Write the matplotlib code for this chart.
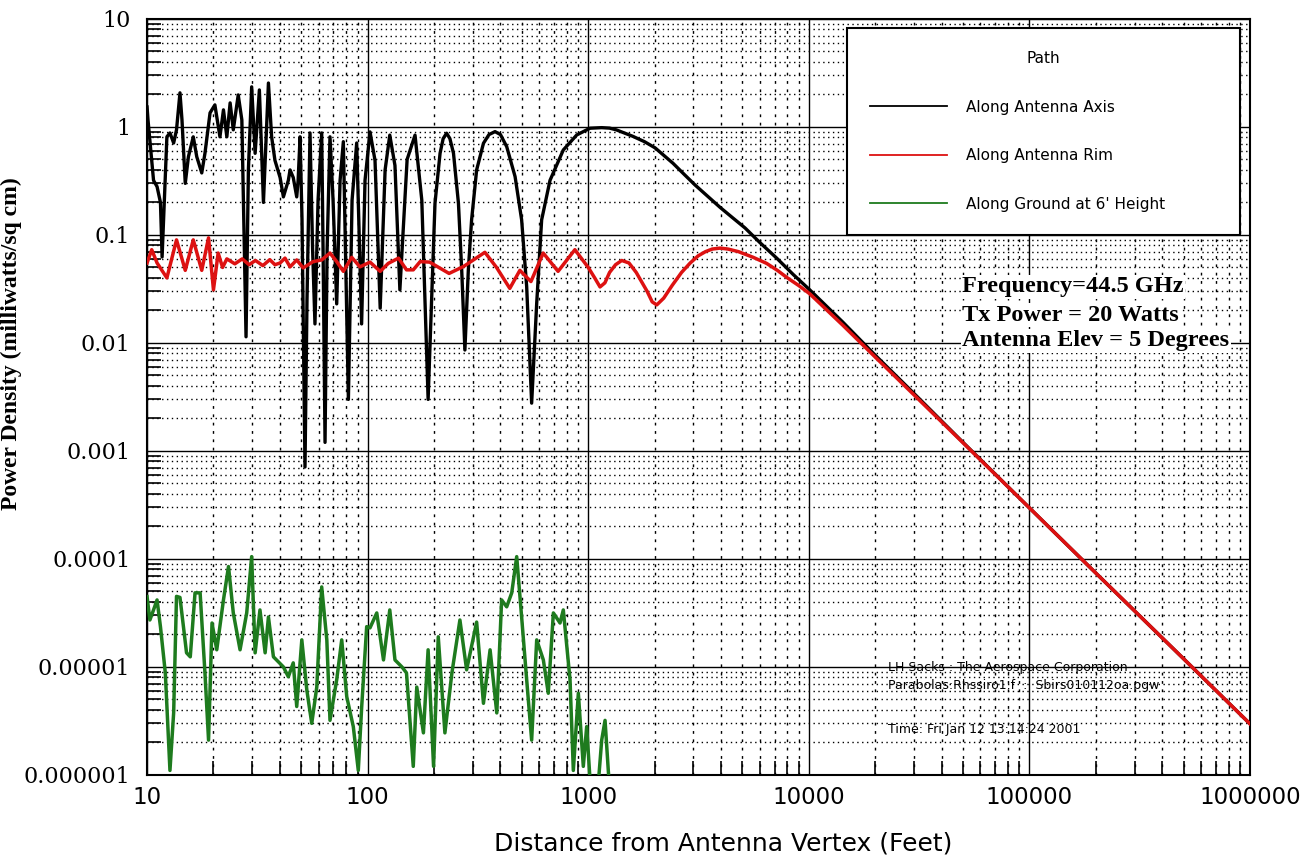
# -*- coding: utf-8 -*-
# Power density vs distance from a parabolic antenna (log-log), 44.5 GHz

import numpy as np
import matplotlib
matplotlib.use('Agg')
import matplotlib.pyplot as plt
from matplotlib.lines import Line2D
from matplotlib.ticker import LogLocator, NullFormatter

# along antenna axis (feet, mW/sq cm)
axis_ft = [10, 10.1, 10.7, 11.1, 11.5, 11.7, 12.3, 12.7, 13.2, 13.6,
           14.1, 14.4, 14.9, 15.4, 16.2, 16.8, 17.7, 18.3, 19.3, 20.3,
           21.4, 22.2, 23.0, 23.8, 24.6, 25.9, 26.9, 28.1, 28.8, 29.8,
           30.9, 32.3, 33.7, 35.5, 36.7, 38.0, 40.1, 41.5, 43.7, 44.5,
           46.0, 47.7, 48.4, 49.4, 50.4, 52.0, 53.1, 54.8, 56.3, 57.7,
           59.6, 61.9, 62.8, 64.1, 65.5, 67.5, 69.7, 72.4, 75.0, 77.6,
           81.8, 85.0, 89.2, 93.9, 97.3, 102.5, 108, 114, 120, 126,
           133, 140, 151, 164, 176, 188, 202, 213, 220, 228,
           236, 245, 258, 267, 276, 286, 296, 312, 335, 355,
           378, 400, 427, 466, 499, 526, 554, 584, 615, 671,
           771, 887, 1019, 1150, 1250, 1340, 1590, 1800, 2010, 2425,
           2700, 3050, 3960, 4500, 5140, 6000, 7150, 8500, 10100, 14300,
           20000, 30000, 50000, 100000, 200000, 500000, 1000000]
axis_pd = [1.53, 1.16, 0.32, 0.28, 0.2, 0.0625, 0.81, 0.88, 0.71, 0.94,
           2.07, 1.16, 0.3, 0.53, 0.81, 0.53, 0.375, 0.57, 1.35, 1.6,
           0.81, 1.44, 0.81, 1.67, 0.94, 1.98, 1.16, 0.0114, 0.4, 2.35,
           0.57, 2.2, 0.2, 2.55, 0.81, 0.49, 0.34, 0.225, 0.32, 0.4,
           0.34, 0.225, 0.32, 0.81, 0.14, 0.00071, 0.025, 0.88, 0.073, 0.015,
           0.21, 0.88, 0.073, 0.0012, 0.073, 0.81, 0.21, 0.023, 0.32, 0.73,
           0.003, 0.21, 0.71, 0.015, 0.32, 0.9, 0.49, 0.021, 0.4, 0.84,
           0.44, 0.031, 0.5, 0.84, 0.21, 0.003, 0.197, 0.571, 0.78, 0.875,
           0.78, 0.571, 0.197, 0.047, 0.0086, 0.047, 0.138, 0.4, 0.706, 0.85,
           0.905, 0.85, 0.657, 0.347, 0.138, 0.0332, 0.00277, 0.0233, 0.138, 0.32,
           0.612, 0.843, 0.973, 0.985, 0.975, 0.94, 0.82, 0.73, 0.64, 0.46,
           0.37, 0.29, 0.18, 0.145, 0.116, 0.085, 0.061, 0.043, 0.031, 0.0155,
           0.0077, 0.0034, 0.00120, 0.000297, 7.4e-5, 1.19e-5, 2.97e-6]

# along antenna rim
rim_ft = [10, 10.5, 11.1, 12.3, 13.6, 14.9, 16.2, 17.7, 19.0, 20.0,
          21.0, 22.0, 23.0, 25.0, 27.0, 29.0, 31.0, 33.5, 36.0, 38.0,
          40.1, 42.2, 44.5, 47.7, 51.0, 56.6, 61.9, 67.5, 72.4, 77.6,
          84.7, 92.3, 102.5, 114, 124, 138, 150, 161, 173, 191,
          234, 272, 340, 384, 441, 490, 550, 625, 730, 870,
          1000, 1070, 1131, 1190, 1250, 1330, 1419, 1530, 1650, 1850,
          1950, 2045, 2200, 2400, 2650, 2900, 3150, 3400, 3650, 3960,
          4300, 4800, 5600, 6440, 7200, 8000, 9000, 10100, 14300, 20000,
          30000, 50000, 100000, 200000, 500000, 1000000]
rim_pd = [0.055, 0.073, 0.055, 0.04, 0.09, 0.047, 0.09, 0.047, 0.094, 0.031,
          0.068, 0.05, 0.06, 0.054, 0.06, 0.053, 0.058, 0.052, 0.059, 0.053,
          0.055, 0.061, 0.0506, 0.0587, 0.0495, 0.0566, 0.0587, 0.068, 0.0566, 0.046,
          0.062, 0.0506, 0.056, 0.046, 0.0545, 0.061, 0.0475, 0.0475, 0.0566, 0.056,
          0.044, 0.051, 0.069, 0.05, 0.032, 0.047, 0.037, 0.068, 0.046, 0.073,
          0.05, 0.04, 0.033, 0.036, 0.045, 0.053, 0.058, 0.055, 0.045, 0.03,
          0.024, 0.0225, 0.026, 0.034, 0.045, 0.055, 0.064, 0.07, 0.074, 0.0755,
          0.074, 0.07, 0.062, 0.0545, 0.047, 0.04, 0.034, 0.0285, 0.0145, 0.0074,
          0.0033, 0.00119, 0.000297, 7.4e-5, 1.19e-5, 2.97e-6]

# along ground at 6' height
ground_ft = [10, 10.3, 10.7, 11.1, 11.5, 12.1, 12.7, 13.2, 13.6, 14.1,
             15.1, 15.7, 16.5, 17.4, 18.3, 19.0, 19.7, 20.7, 22.2, 23.4,
             24.6, 26.4, 28.3, 29.8, 30.9, 32.5, 34.3, 35.5, 37.4, 41.5,
             43.7, 46.0, 47.7, 50.3, 53.0, 55.8, 58.8, 61.9, 65.3, 67.5,
             72.4, 76.3, 80.4, 86.1, 90.7, 94.0, 99, 102.5, 110, 118,
             126, 133, 143, 150, 161, 167, 179, 188, 199, 209,
             224, 241, 262, 281, 312, 335, 359, 385, 405, 427,
             450, 474, 499, 526, 554, 584, 626, 659, 695, 745,
             771, 827, 856, 902, 950, 984, 1019, 1080, 1151, 1192,
             1233, 1270]
ground_pd = [4.48e-5, 2.72e-5, 3.37e-5, 4.17e-5, 2.36e-5, 8.8e-6, 1.1e-6, 3.75e-6, 4.5e-5, 4.4e-5,
             1.35e-5, 1.24e-5, 4.85e-5, 4.85e-5, 8.8e-6, 2.1e-6, 2.55e-5, 1.44e-5, 4.17e-5, 8.5e-5,
             3.16e-5, 1.44e-5, 3.16e-5, 1.05e-4, 1.35e-5, 3.37e-5, 1.35e-5, 2.9e-5, 1.24e-5, 1.0e-5,
             8.1e-6, 1.09e-5, 4.3e-6, 1.78e-5, 6.1e-6, 3.0e-6, 6.5e-6, 5.5e-5, 1.78e-5, 3.2e-6,
             7.6e-6, 1.78e-5, 5.3e-6, 2.8e-6, 1.1e-6, 4.3e-6, 2.36e-5, 2.3e-5, 3.16e-5, 1.16e-5,
             3.37e-5, 1.16e-5, 1.0e-5, 8.8e-6, 1.2e-6, 6.5e-6, 2.45e-6, 1.44e-5, 1.2e-6, 1.9e-5,
             2.45e-6, 8.8e-6, 2.72e-5, 9.4e-6, 2.6e-5, 4.6e-6, 1.44e-5, 3.75e-6, 4.17e-5, 3.6e-5,
             4.85e-5, 1.05e-4, 2.9e-5, 7.6e-6, 2.1e-6, 1.78e-5, 1.16e-5, 5.7e-6, 3.16e-5, 2.55e-5,
             3.37e-5, 7.6e-6, 1.1e-6, 5.7e-6, 1.2e-6, 2.8e-6, 9e-7, 4e-7, 2.1e-6, 3.2e-6,
             1.1e-6, 5e-7]

x_ticks = [10, 100, 1000, 10000, 100000, 1000000]
x_tick_labels = ['10', '100', '1000', '10000', '100000', '1000000']
y_ticks = [1e-6, 1e-5, 1e-4, 1e-3, 1e-2, 1e-1, 1, 10]
y_tick_labels = ['0.000001', '0.00001', '0.0001', '0.001', '0.01', '0.1', '1', '10']

series_names = ['Along Antenna Axis', 'Along Antenna Rim', "Along Ground at 6' Height"]
series_colors = ['#000000', '#dd1111', '#1e7b1e']

info_lines = ['Frequency=44.5 GHz', 'Tx Power = 20 Watts', 'Antenna Elev = 5 Degrees']


def draw_chart():
    fig = plt.figure(figsize=(13.13, 8.61), dpi=100)
    ax = fig.add_axes([0.112, 0.100, 0.840, 0.878])
    ax.set_xscale('log')
    ax.set_yscale('log')

    ax.plot(axis_ft, axis_pd, color=series_colors[0], lw=2.4, zorder=3)
    ax.plot(ground_ft, ground_pd, color=series_colors[2], lw=2.5, zorder=3)
    ax.plot(rim_ft, rim_pd, color=series_colors[1], lw=2.5, zorder=4)

    ax.set_xlim(10, 1e6)
    ax.set_ylim(1e-6, 10)

    # grid: solid decades, dotted sub-decades
    ax.xaxis.set_minor_locator(LogLocator(base=10, subs=np.arange(2, 10), numticks=30))
    ax.yaxis.set_minor_locator(LogLocator(base=10, subs=np.arange(2, 10), numticks=30))
    ax.xaxis.set_minor_formatter(NullFormatter())
    ax.yaxis.set_minor_formatter(NullFormatter())
    ax.set_axisbelow(True)
    ax.grid(which='major', color='black', lw=1.0, ls='-')
    ax.xaxis.grid(which='minor', color='black', lw=1.0, ls=(0, (2, 4)))
    ax.yaxis.grid(which='minor', color='black', lw=1.0, ls=(0, (1, 2.5)))

    ax.tick_params(which='minor', direction='in', length=10, width=1.2)
    ax.tick_params(which='major', direction='in', length=0)
    ax.tick_params(axis='y', which='major', pad=12)
    ax.tick_params(axis='x', which='major', pad=8)

    ax.set_xticks(x_ticks)
    ax.set_xticklabels(x_tick_labels, fontsize=16.5, family='DejaVu Sans')
    ax.set_yticks(y_ticks)
    ax.set_yticklabels(y_tick_labels, fontsize=16, family='DejaVu Serif')

    for sp in ax.spines.values():
        sp.set_linewidth(1.5)
        sp.set_color('black')

    ax.set_xlabel('Distance from Antenna Vertex (Feet)', fontsize=18, family='DejaVu Sans')
    ax.xaxis.set_label_coords(0.522, -0.075)
    ax.set_ylabel('Power Density (milliwatts/sq cm)', fontsize=17, family='Liberation Serif',
                  fontweight='bold')
    ax.yaxis.set_label_coords(-0.113, 0.57)

    # legend
    handles = [Line2D([], [], color=c, lw=1.3) for c in series_colors]
    leg = ax.legend(handles, series_names, title='Path', loc='upper left',
                    bbox_to_anchor=(0.635, 0.697, 0.356, 0.291), mode='expand',
                    borderaxespad=0, title_fontsize=11,
                    labelspacing=2.2, borderpad=1.5, handlelength=5.0,
                    handletextpad=1.25, fancybox=False, framealpha=1,
                    edgecolor='black', prop={'family': 'DejaVu Sans', 'size': 11})
    leg.get_frame().set_linewidth(1.5)
    leg.set_zorder(6)

    # annotations
    y_pos = [0.6455, 0.608, 0.574]
    for txt, yy in zip(info_lines, y_pos):
        ax.text(0.739, yy, txt, transform=ax.transAxes, ha='left', va='center',
                fontsize=17.5, family='Liberation Serif', fontweight='bold', zorder=5,
                bbox=dict(facecolor='white', edgecolor='none', pad=1.0))

    ax.text(0.672, 0.1415, 'LH Sacks : The Aerospace Corporation', transform=ax.transAxes,
            ha='left', va='center', fontsize=9, family='DejaVu Sans', zorder=5)
    ax.text(0.672, 0.118, 'Parabolas:Rhssiro1.f  :  Sbirs010112oa.pgw', transform=ax.transAxes,
            ha='left', va='center', fontsize=9, family='DejaVu Sans', zorder=5)
    ax.text(0.672, 0.0595, 'Time: Fri Jan 12 13:14:24 2001', transform=ax.transAxes,
            ha='left', va='center', fontsize=9, family='DejaVu Sans', zorder=5)

    fig.savefig('out.png', dpi=100, facecolor='white')


def main():
    draw_chart()


if __name__ == '__main__':
    main()
